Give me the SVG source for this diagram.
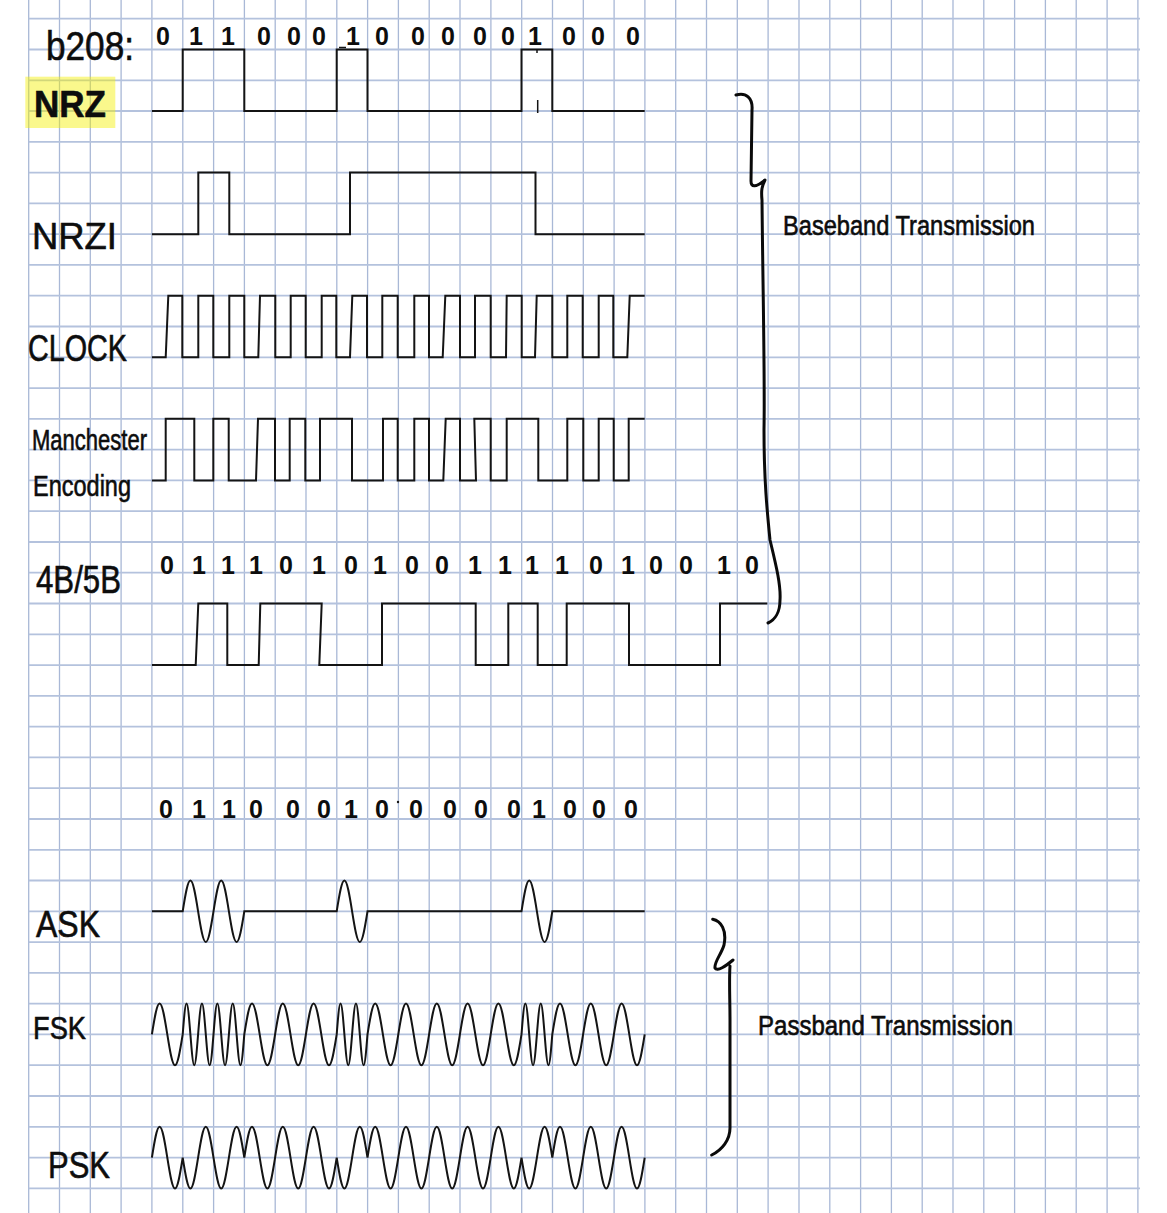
<svg xmlns="http://www.w3.org/2000/svg" width="1167" height="1213" viewBox="0 0 1167 1213">
<style>
.gv{stroke:#a9b8d6;stroke-width:1.3;fill:none}
.gh{stroke:#b4c2dd;stroke-width:1.8;fill:none}
.w{stroke:#141414;stroke-width:2;fill:none;stroke-linejoin:miter}
.br{stroke:#0a0a0a;stroke-width:3;fill:none;stroke-linecap:round;stroke-linejoin:round}
.lb{font-family:"Liberation Sans","DejaVu Sans",sans-serif;fill:#0d0d0d;stroke:#0d0d0d;stroke-width:0.6}
.dg{font-family:"Liberation Sans","DejaVu Sans",sans-serif;font-weight:bold;font-size:25px;fill:#0d0d0d;text-anchor:middle}
.mk{stroke:#141414;stroke-width:1.5;fill:none}
</style>
<rect width="1167" height="1213" fill="#ffffff"/>
<g id="grid">
<path class="gv" d="M28.7,0V1213M59.5,0V1213M90.3,0V1213M121.1,0V1213M151.9,0V1213M182.8,0V1213M213.6,0V1213M244.4,0V1213M275.2,0V1213M306,0V1213M336.8,0V1213M367.6,0V1213M398.4,0V1213M429.2,0V1213M460,0V1213M490.9,0V1213M521.7,0V1213M552.5,0V1213M583.3,0V1213M614.1,0V1213M644.9,0V1213M675.7,0V1213M706.5,0V1213M737.3,0V1213M768.1,0V1213M799,0V1213M829.8,0V1213M860.6,0V1213M891.4,0V1213M922.2,0V1213M953,0V1213M983.8,0V1213M1014.6,0V1213M1045.4,0V1213M1076.2,0V1213M1107.1,0V1213M1137.9,0V1213"/>
<path class="gh" d="M28.7,18.7H1140M28.7,49.5H1140M28.7,80.3H1140M28.7,111H1140M28.7,141.8H1140M28.7,172.6H1140M28.7,203.4H1140M28.7,234.2H1140M28.7,264.9H1140M28.7,295.7H1140M28.7,326.5H1140M28.7,357.3H1140M28.7,388.1H1140M28.7,418.8H1140M28.7,449.6H1140M28.7,480.4H1140M28.7,511.2H1140M28.7,542H1140M28.7,572.7H1140M28.7,603.5H1140M28.7,634.3H1140M28.7,665.1H1140M28.7,695.9H1140M28.7,726.6H1140M28.7,757.4H1140M28.7,788.2H1140M28.7,819H1140M28.7,849.8H1140M28.7,880.5H1140M28.7,911.3H1140M28.7,942.1H1140M28.7,972.9H1140M28.7,1003.7H1140M28.7,1034.4H1140M28.7,1065.2H1140M28.7,1096H1140M28.7,1126.8H1140M28.7,1157.6H1140M28.7,1188.3H1140"/>
</g>
<g id="bits-top">
<text class="lb" x="46" y="60" font-size="40" textLength="88" lengthAdjust="spacingAndGlyphs">b208:</text>
<text class="dg" y="45" x="163 196 228 264 294 319 353 382 418 448 480 508 535 569 598 633">0110001000001000</text>
<path class="mk" d="M339,47.5H346"/>
</g>
<g id="row-nrz">
<rect x="25.3" y="76.7" width="90" height="51.3" fill="#f5f000" fill-opacity="0.45"/>
<text class="lb" x="34" y="117" font-size="36" font-weight="bold" textLength="72" lengthAdjust="spacingAndGlyphs">NRZ</text>
<path class="w" d="M151.9,111H182.7V49.5H244.3V111H336.7V49.5H367.5V111H521.5V49.5H552.3V111H644.7"/>
<path class="mk" d="M537.7,100V113M537,49.5V53"/>
</g>
<g id="row-nrzi">
<text class="lb" x="32" y="249" font-size="36" textLength="85" lengthAdjust="spacingAndGlyphs">NRZI</text>
<path class="w" d="M151.9,234.2H198.3V172.6H229.3V234.2H350V172.6H535.5V234.2H644.7"/>
</g>
<g id="row-clock">
<text class="lb" x="28" y="361" font-size="36" textLength="99" lengthAdjust="spacingAndGlyphs">CLOCK</text>
<path class="w" d="M151.9,357.3H165.7L168.3,295.7H182.3V357.3H198.3V295.7H213.3V357.3H229.3V295.7H244.3V357.3H258.3L260,295.7H275.3V357.3H290.7V295.7H305.7V357.3H321.7V295.7H336.3V357.3H350L352.3,295.7H367V357.3H382.3V295.7H397.7V357.3H414.3V295.7H429V357.3H442.7L445.3,295.7H460V357.3H475V295.7H490.7V357.3H506L506.7,295.7H521.7V357.3H535L536.7,295.7H552.3V357.3H567.3V295.7H582.7V357.3H598.7V295.7H613.3V357.3H627.3L629.7,295.7H644.7"/>
</g>
<g id="row-manchester">
<text class="lb" x="32" y="450" font-size="29" textLength="115" lengthAdjust="spacingAndGlyphs">Manchester</text>
<text class="lb" x="33" y="496" font-size="29" textLength="98" lengthAdjust="spacingAndGlyphs">Encoding</text>
<path class="w" d="M151.9,480.4H165.7V418.8H194.3V480.4H213.3V418.8H228.7V480.4H256L258,418.8H275V480.4H289.7V418.8H305.3V480.4H320V418.8H352V480.4H383V418.8H397.7V480.4H414.3V418.8H429V480.4H443.3L445.7,418.8H460V480.4H476L474.3,418.8H490.7V480.4H506.7V418.8H538.3V480.4H567.3V418.8H583.3V480.4H598.7V418.8H613.7V480.4H628.7V418.8H644.7"/>
</g>
<g id="row-4b5b">
<text class="lb" x="36" y="593" font-size="38" textLength="85" lengthAdjust="spacingAndGlyphs">4B/5B</text>
<text class="dg" y="574" x="167 199 228 256 286 319 351 380 412 442 475 505 532 562 596 628 656 686 724 752">01110101001111010010</text>
<path class="w" d="M151.9,665.1H195.7L198.3,603.5H227.3V665.1H258.7L260.3,603.5H321.7L319.3,665.1H382V603.5H475.7V665.1H508.3V603.5H537.7V665.1H566.7V603.5H629V665.1H720V603.5H767.3"/>
</g>
<g id="bits-bottom">
<text class="dg" y="818" x="166 199 229 256 293 324 351 382 416 450 481 514 539 570 599 631">0110001000001000</text>
<circle cx="398" cy="802" r="1.2" fill="#141414"/>
</g>
<g id="row-ask">
<text class="lb" x="36" y="937" font-size="36" textLength="64" lengthAdjust="spacingAndGlyphs">ASK</text>
<path class="w" d="M151.9,911.3h30.8c2.51,-15.78 4.91,-30.8 7.7,-30.8c2.79,0 5.19,15.02 7.7,30.8c2.51,15.78 4.91,30.8 7.7,30.8c2.79,0 5.19,-15.02 7.7,-30.8c2.51,-15.78 4.91,-30.8 7.7,-30.8c2.79,0 5.19,15.02 7.7,30.8c2.51,15.78 4.91,30.8 7.7,30.8c2.79,0 5.19,-15.02 7.7,-30.8h92.4c2.51,-15.78 4.91,-30.8 7.7,-30.8c2.79,0 5.19,15.02 7.7,30.8c2.51,15.78 4.91,30.8 7.7,30.8c2.79,0 5.19,-15.02 7.7,-30.8h154c2.51,-15.78 4.91,-30.8 7.7,-30.8c2.79,0 5.19,15.02 7.7,30.8c2.51,15.78 4.91,30.8 7.7,30.8c2.79,0 5.19,-15.02 7.7,-30.8h92.4"/>
</g>
<g id="row-fsk">
<text class="lb" x="33" y="1039" font-size="31" textLength="53" lengthAdjust="spacingAndGlyphs">FSK</text>
<path class="w" d="M151.9,1034.4
c2.51,-15.78 4.91,-30.8 7.7,-30.8c2.79,0 5.19,15.02 7.7,30.8c2.51,15.78 4.91,30.8 7.7,30.8c2.79,0 5.19,-15.02 7.7,-30.8
c1.26,-15.78 2.46,-30.8 3.85,-30.8c1.39,0 2.59,15.02 3.85,30.8c1.26,15.78 2.46,30.8 3.85,30.8c1.39,0 2.59,-15.02 3.85,-30.8c1.26,-15.78 2.46,-30.8 3.85,-30.8c1.39,0 2.59,15.02 3.85,30.8c1.26,15.78 2.46,30.8 3.85,30.8c1.39,0 2.59,-15.02 3.85,-30.8
c1.26,-15.78 2.46,-30.8 3.85,-30.8c1.39,0 2.59,15.02 3.85,30.8c1.26,15.78 2.46,30.8 3.85,30.8c1.39,0 2.59,-15.02 3.85,-30.8c1.26,-15.78 2.46,-30.8 3.85,-30.8c1.39,0 2.59,15.02 3.85,30.8c1.26,15.78 2.46,30.8 3.85,30.8c1.39,0 2.59,-15.02 3.85,-30.8
c2.51,-15.78 4.91,-30.8 7.7,-30.8c2.79,0 5.19,15.02 7.7,30.8c2.51,15.78 4.91,30.8 7.7,30.8c2.79,0 5.19,-15.02 7.7,-30.8
c2.51,-15.78 4.91,-30.8 7.7,-30.8c2.79,0 5.19,15.02 7.7,30.8c2.51,15.78 4.91,30.8 7.7,30.8c2.79,0 5.19,-15.02 7.7,-30.8
c2.51,-15.78 4.91,-30.8 7.7,-30.8c2.79,0 5.19,15.02 7.7,30.8c2.51,15.78 4.91,30.8 7.7,30.8c2.79,0 5.19,-15.02 7.7,-30.8
c1.26,-15.78 2.46,-30.8 3.85,-30.8c1.39,0 2.59,15.02 3.85,30.8c1.26,15.78 2.46,30.8 3.85,30.8c1.39,0 2.59,-15.02 3.85,-30.8c1.26,-15.78 2.46,-30.8 3.85,-30.8c1.39,0 2.59,15.02 3.85,30.8c1.26,15.78 2.46,30.8 3.85,30.8c1.39,0 2.59,-15.02 3.85,-30.8
c2.51,-15.78 4.91,-30.8 7.7,-30.8c2.79,0 5.19,15.02 7.7,30.8c2.51,15.78 4.91,30.8 7.7,30.8c2.79,0 5.19,-15.02 7.7,-30.8
c2.51,-15.78 4.91,-30.8 7.7,-30.8c2.79,0 5.19,15.02 7.7,30.8c2.51,15.78 4.91,30.8 7.7,30.8c2.79,0 5.19,-15.02 7.7,-30.8
c2.51,-15.78 4.91,-30.8 7.7,-30.8c2.79,0 5.19,15.02 7.7,30.8c2.51,15.78 4.91,30.8 7.7,30.8c2.79,0 5.19,-15.02 7.7,-30.8
c2.51,-15.78 4.91,-30.8 7.7,-30.8c2.79,0 5.19,15.02 7.7,30.8c2.51,15.78 4.91,30.8 7.7,30.8c2.79,0 5.19,-15.02 7.7,-30.8
c2.51,-15.78 4.91,-30.8 7.7,-30.8c2.79,0 5.19,15.02 7.7,30.8c2.51,15.78 4.91,30.8 7.7,30.8c2.79,0 5.19,-15.02 7.7,-30.8
c1.26,-15.78 2.46,-30.8 3.85,-30.8c1.39,0 2.59,15.02 3.85,30.8c1.26,15.78 2.46,30.8 3.85,30.8c1.39,0 2.59,-15.02 3.85,-30.8c1.26,-15.78 2.46,-30.8 3.85,-30.8c1.39,0 2.59,15.02 3.85,30.8c1.26,15.78 2.46,30.8 3.85,30.8c1.39,0 2.59,-15.02 3.85,-30.8
c2.51,-15.78 4.91,-30.8 7.7,-30.8c2.79,0 5.19,15.02 7.7,30.8c2.51,15.78 4.91,30.8 7.7,30.8c2.79,0 5.19,-15.02 7.7,-30.8
c2.51,-15.78 4.91,-30.8 7.7,-30.8c2.79,0 5.19,15.02 7.7,30.8c2.51,15.78 4.91,30.8 7.7,30.8c2.79,0 5.19,-15.02 7.7,-30.8
c2.51,-15.78 4.91,-30.8 7.7,-30.8c2.79,0 5.19,15.02 7.7,30.8c2.51,15.78 4.91,30.8 7.7,30.8c2.79,0 5.19,-15.02 7.7,-30.8"/>
</g>
<g id="row-psk">
<text class="lb" x="48" y="1178" font-size="37" textLength="62" lengthAdjust="spacingAndGlyphs">PSK</text>
<path class="w" d="M151.9,1157.6
c2.51,-15.78 4.91,-30.8 7.7,-30.8c2.79,0 5.19,15.02 7.7,30.8c2.51,15.78 4.91,30.8 7.7,30.8c2.79,0 5.19,-15.02 7.7,-30.8
c2.51,15.78 4.91,30.8 7.7,30.8c2.79,0 5.19,-15.02 7.7,-30.8c2.51,-15.78 4.91,-30.8 7.7,-30.8c2.79,0 5.19,15.02 7.7,30.8
c2.51,15.78 4.91,30.8 7.7,30.8c2.79,0 5.19,-15.02 7.7,-30.8c2.51,-15.78 4.91,-30.8 7.7,-30.8c2.79,0 5.19,15.02 7.7,30.8
c2.51,-15.78 4.91,-30.8 7.7,-30.8c2.79,0 5.19,15.02 7.7,30.8c2.51,15.78 4.91,30.8 7.7,30.8c2.79,0 5.19,-15.02 7.7,-30.8
c2.51,-15.78 4.91,-30.8 7.7,-30.8c2.79,0 5.19,15.02 7.7,30.8c2.51,15.78 4.91,30.8 7.7,30.8c2.79,0 5.19,-15.02 7.7,-30.8
c2.51,-15.78 4.91,-30.8 7.7,-30.8c2.79,0 5.19,15.02 7.7,30.8c2.51,15.78 4.91,30.8 7.7,30.8c2.79,0 5.19,-15.02 7.7,-30.8
c2.51,15.78 4.91,30.8 7.7,30.8c2.79,0 5.19,-15.02 7.7,-30.8c2.51,-15.78 4.91,-30.8 7.7,-30.8c2.79,0 5.19,15.02 7.7,30.8
c2.51,-15.78 4.91,-30.8 7.7,-30.8c2.79,0 5.19,15.02 7.7,30.8c2.51,15.78 4.91,30.8 7.7,30.8c2.79,0 5.19,-15.02 7.7,-30.8
c2.51,-15.78 4.91,-30.8 7.7,-30.8c2.79,0 5.19,15.02 7.7,30.8c2.51,15.78 4.91,30.8 7.7,30.8c2.79,0 5.19,-15.02 7.7,-30.8
c2.51,-15.78 4.91,-30.8 7.7,-30.8c2.79,0 5.19,15.02 7.7,30.8c2.51,15.78 4.91,30.8 7.7,30.8c2.79,0 5.19,-15.02 7.7,-30.8
c2.51,-15.78 4.91,-30.8 7.7,-30.8c2.79,0 5.19,15.02 7.7,30.8c2.51,15.78 4.91,30.8 7.7,30.8c2.79,0 5.19,-15.02 7.7,-30.8
c2.51,-15.78 4.91,-30.8 7.7,-30.8c2.79,0 5.19,15.02 7.7,30.8c2.51,15.78 4.91,30.8 7.7,30.8c2.79,0 5.19,-15.02 7.7,-30.8
c2.51,15.78 4.91,30.8 7.7,30.8c2.79,0 5.19,-15.02 7.7,-30.8c2.51,-15.78 4.91,-30.8 7.7,-30.8c2.79,0 5.19,15.02 7.7,30.8
c2.51,-15.78 4.91,-30.8 7.7,-30.8c2.79,0 5.19,15.02 7.7,30.8c2.51,15.78 4.91,30.8 7.7,30.8c2.79,0 5.19,-15.02 7.7,-30.8
c2.51,-15.78 4.91,-30.8 7.7,-30.8c2.79,0 5.19,15.02 7.7,30.8c2.51,15.78 4.91,30.8 7.7,30.8c2.79,0 5.19,-15.02 7.7,-30.8
c2.51,-15.78 4.91,-30.8 7.7,-30.8c2.79,0 5.19,15.02 7.7,30.8c2.51,15.78 4.91,30.8 7.7,30.8c2.79,0 5.19,-15.02 7.7,-30.8"/>
</g>
<g id="brace-baseband">
<path class="br" d="M736,95C746,92 753,98 752,110L751,181C751,188 756,187 765,180C762,186 761,190 762,200C763,300 765,380 764,430C764,480 767,510 770,540C776,565 781,585 780,600C780,612 775,620 768,623"/>
<text class="lb" x="783" y="235" font-size="27" textLength="252" lengthAdjust="spacingAndGlyphs">Baseband Transmission</text>
</g>
<g id="brace-passband">
<path class="br" d="M712.7,919.3C721,921 727,930 724,945C721,955 714,962 715,968C717,972 726,966 733,960M730,966C729,980 730,1000 730,1020L730,1128C730,1140 722,1150 711.7,1155"/>
<text class="lb" x="758" y="1035" font-size="27" textLength="255" lengthAdjust="spacingAndGlyphs">Passband Transmission</text>
</g>
</svg>
